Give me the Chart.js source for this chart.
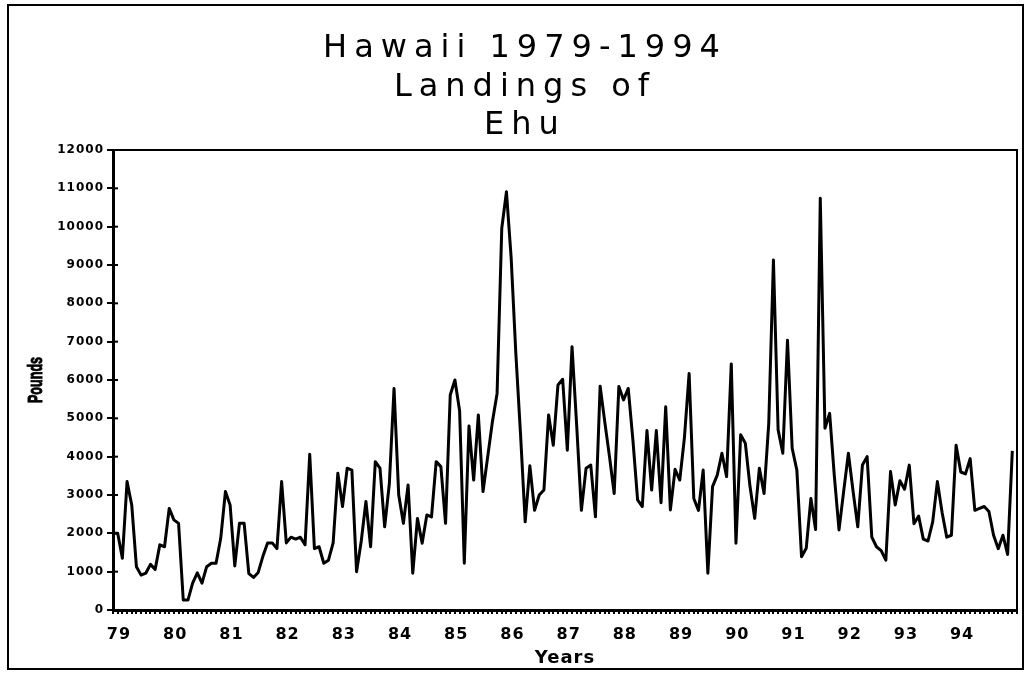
<!DOCTYPE html>
<html><head><meta charset="utf-8">
<script src="https://cdn.jsdelivr.net/npm/chart.js@4"></script>
<style>
html,body{margin:0;padding:0;background:#fff;}
#wrap{position:relative;width:1028px;height:673px;overflow:hidden;}
#frame{position:absolute;left:7px;top:4px;width:1013px;height:662px;border:2px solid #000;pointer-events:none;}
canvas{position:absolute;left:0;top:0;}
</style></head><body>
<div id="wrap"><canvas id="c" width="1028" height="673"></canvas><div id="frame"></div></div>
<script>
// Title and axis text
const titleLines = ['Hawaii 1979-1994', 'Landings of', 'Ehu'];
const xAxisTitle = 'Years';
const yAxisTitle = 'Pounds';
const yearLabels = ['79','80','81','82','83','84','85','86','87','88','89','90','91','92','93','94'];

// Monthly landings (pounds)
const y1979 = [2000, 2000, 1350, 3350, 2740, 1130, 910, 960, 1190, 1060, 1700, 1650];
const y1980 = [2650, 2350, 2260, 260, 260, 700, 970, 700, 1130, 1220, 1220, 1870];
const y1981 = [3090, 2740, 1150, 2260, 2260, 950, 850, 980, 1400, 1750, 1750, 1600];
const y1982 = [3350, 1750, 1900, 1850, 1900, 1700, 4060, 1600, 1650, 1220, 1300, 1750];
const y1983 = [3570, 2700, 3700, 3650, 1000, 1800, 2830, 1650, 3870, 3700, 2170, 3300];
const y1984 = [5780, 3000, 2260, 3260, 960, 2390, 1740, 2480, 2430, 3870, 3740, 2260];
const y1985 = [5610, 6000, 5200, 1220, 4800, 3390, 5090, 3090, 4000, 4910, 5650, 9960];
const y1986 = [10910, 9200, 6700, 4600, 2300, 3760, 2600, 3000, 3130, 5090, 4300, 5870];
const y1987 = [6020, 4170, 6870, 4800, 2600, 3700, 3780, 2430, 5840, 4900, 4000, 3040];
const y1988 = [5830, 5480, 5780, 4430, 2870, 2700, 4680, 3130, 4680, 2800, 5300, 2610];
const y1989 = [3670, 3390, 4500, 6170, 2910, 2600, 3650, 960, 3220, 3520, 4090, 3480];
const y1990 = [6420, 1740, 4570, 4350, 3220, 2390, 3700, 3040, 4870, 9130, 4700, 4090];
const y1991 = [7040, 4220, 3650, 1390, 1610, 2910, 2100, 10740, 4740, 5130, 3500, 2090];
const y1992 = [3100, 4090, 3100, 2170, 3780, 4000, 1900, 1650, 1550, 1300, 3610, 2740];
const y1993 = [3370, 3150, 3780, 2250, 2450, 1850, 1800, 2300, 3350, 2550, 1900, 1950];
const y1994 = [4300, 3600, 3550, 3950, 2600, 2650, 2700, 2570, 1950, 1600, 1950, 1450, 4150];

const yTickMin = 0, yTickMax = 12000, yTickStep = 1000;

const values = [].concat(y1979, y1980, y1981, y1982, y1983, y1984, y1985, y1986,
  y1987, y1988, y1989, y1990, y1991, y1992, y1993, y1994);
// one extra empty category keeps a small gap after the last month, as in the original
const labels = values.map((v, i) => (i % 12 === 0 && i / 12 < yearLabels.length) ? yearLabels[i / 12] : '').concat(['']);

const FONT = '"DejaVu Sans", "Liberation Sans", sans-serif';

const decor = {
  id: 'decor',
  beforeDraw(chart) {
    chart.ctx.letterSpacing = '1px';
  },
  afterDraw(chart) {
    const ctx = chart.ctx;
    const a = chart.chartArea;
    const ys = chart.scales.y;
    ctx.save();
    ctx.letterSpacing = '0px';
    ctx.strokeStyle = '#000';
    // top and right frame of plot area
    ctx.lineWidth = 2;
    ctx.beginPath();
    ctx.moveTo(a.left, a.top);
    ctx.lineTo(a.right, a.top);
    ctx.lineTo(a.right, a.bottom);
    ctx.stroke();
    // inner part of y ticks
    ys.ticks.forEach(t => {
      const py = ys.getPixelForValue(t.value);
      ctx.beginPath();
      ctx.moveTo(a.left, py);
      ctx.lineTo(a.left + 5, py);
      ctx.stroke();
    });
    // y axis title, condensed heavy
    ctx.fillStyle = '#000';
    ctx.save();
    ctx.translate(36, (a.top + a.bottom) / 2);
    ctx.rotate(-Math.PI / 2);
    ctx.scale(0.6, 1);
    ctx.font = 'bold 21px "Liberation Sans", sans-serif';
    ctx.textAlign = 'center';
    ctx.textBaseline = 'middle';
    ctx.lineWidth = 1;
    ctx.fillText(yAxisTitle, 0, 0);
    ctx.strokeText(yAxisTitle, 0, 0);
    ctx.restore();
    // title
    ctx.font = '32px ' + FONT;
    ctx.letterSpacing = '7px';
    ctx.textAlign = 'center';
    ctx.textBaseline = 'alphabetic';
    const base = [57, 96, 134];
    titleLines.forEach((t, k) => ctx.fillText(t, 525, base[k]));
    ctx.restore();
    ctx.letterSpacing = '0px';
  }
};

new Chart(document.getElementById('c'), {
  type: 'line',
  data: {
    labels: labels,
    datasets: [{
      data: values,
      borderColor: '#000',
      borderWidth: 3,
      borderJoinStyle: 'round',
      pointRadius: 0,
      tension: 0,
      fill: false
    }]
  },
  options: {
    responsive: false,
    animation: false,
    events: [],
    layout: { padding: { top: 150, right: 10, left: 0, bottom: 0 } },
    plugins: { legend: { display: false }, tooltip: { enabled: false }, title: { display: false } },
    scales: {
      x: {
        type: 'category',
        offset: false,
        afterFit(s) { s.height = 63; },
        border: { display: true, color: '#000', width: 3 },
        grid: { display: true, drawOnChartArea: false, drawTicks: true, tickLength: 4, lineWidth: 2, color: '#000' },
        ticks: {
          autoSkip: false, maxRotation: 0, minRotation: 0, padding: 11, labelOffset: 6,
          color: '#000', font: { family: FONT, size: 16, weight: 'bold' }
        },
        title: {
          display: true, text: xAxisTitle, color: '#000',
          font: { family: FONT, size: 18, weight: 'bold' }, padding: { top: 0, bottom: 4 }
        }
      },
      y: {
        min: yTickMin, max: yTickMax,
        afterFit(s) { s.width = 113; },
        border: { display: true, color: '#000', width: 3 },
        grid: { display: true, drawOnChartArea: false, drawTicks: true, tickLength: 6, lineWidth: 2, color: '#000' },
        ticks: {
          stepSize: yTickStep, padding: 3, color: '#000',
          font: { family: FONT, size: 12, weight: 'bold' },
          callback: (v) => String(v)
        },
        title: { display: false }
      }
    }
  },
  plugins: [decor]
});
</script>
</body></html>
